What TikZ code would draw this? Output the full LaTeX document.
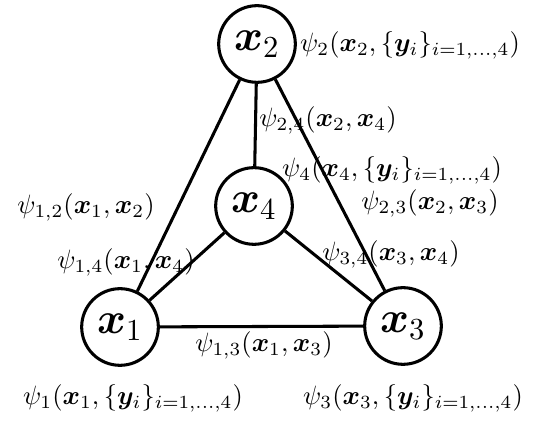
\documentclass[tikz,border=0pt]{standalone}
\usepackage{graphicx}
\usepackage{amsmath,bm}
\newcommand{\lt}[1]{\scalebox{0.955}{$#1$}}
\newcommand{\vt}[1]{\scalebox{1.1}{$#1$}}
\begin{document}
\begin{tikzpicture}[x=0.36pt,y=-0.36pt,
  var/.style={circle,draw,line width=1.1pt,minimum size=27.6pt,inner sep=0pt,font=\Large},
  edge/.style={line width=1.1pt},
  lab/.style={inner sep=0pt}]
\useasboundingbox (0,0) rectangle (535,421);
\node[var] (x2) at (257,44) {\vt{\bm{x}_2}};
\node[var] (x4) at (254,206) {\vt{\bm{x}_4}};
\node[var] (x1) at (120,327) {\vt{\bm{x}_1}};
\node[var] (x3) at (403,326) {\vt{\bm{x}_3}};
\draw[edge] (x1) -- (x2);
\draw[edge] (x2) -- (x3);
\draw[edge] (x2) -- (x4);
\draw[edge] (x1) -- (x4);
\draw[edge] (x3) -- (x4);
\draw[edge] (x1) -- (x3);
\node[lab] (p2) at (410,45) {\lt{\psi_2(\bm{x}_2,\{\bm{y}_i\}_{i=1,\dots,4})}};
\node[lab] (p24) at (328,120) {\lt{\psi_{2,4}(\bm{x}_2,\bm{x}_4)}};
\node[lab] (p4) at (392,170) {\lt{\psi_4(\bm{x}_4,\{\bm{y}_i\}_{i=1,\dots,4})}};
\node[lab] (p23) at (430,203) {\lt{\psi_{2,3}(\bm{x}_2,\bm{x}_3)}};
\node[lab] (p12) at (86,207) {\lt{\psi_{1,2}(\bm{x}_1,\bm{x}_2)}};
\node[lab] (p14) at (126,262) {\lt{\psi_{1,4}(\bm{x}_1,\bm{x}_4)}};
\node[lab] (p34) at (391,254) {\lt{\psi_{3,4}(\bm{x}_3,\bm{x}_4)}};
\node[lab] (p13) at (264,345) {\lt{\psi_{1,3}(\bm{x}_1,\bm{x}_3)}};
\node[lab] (p1) at (133,398) {\lt{\psi_1(\bm{x}_1,\{\bm{y}_i\}_{i=1,\dots,4})}};
\node[lab] (p3) at (413,398) {\lt{\psi_3(\bm{x}_3,\{\bm{y}_i\}_{i=1,\dots,4})}};
\end{tikzpicture}
\end{document}
